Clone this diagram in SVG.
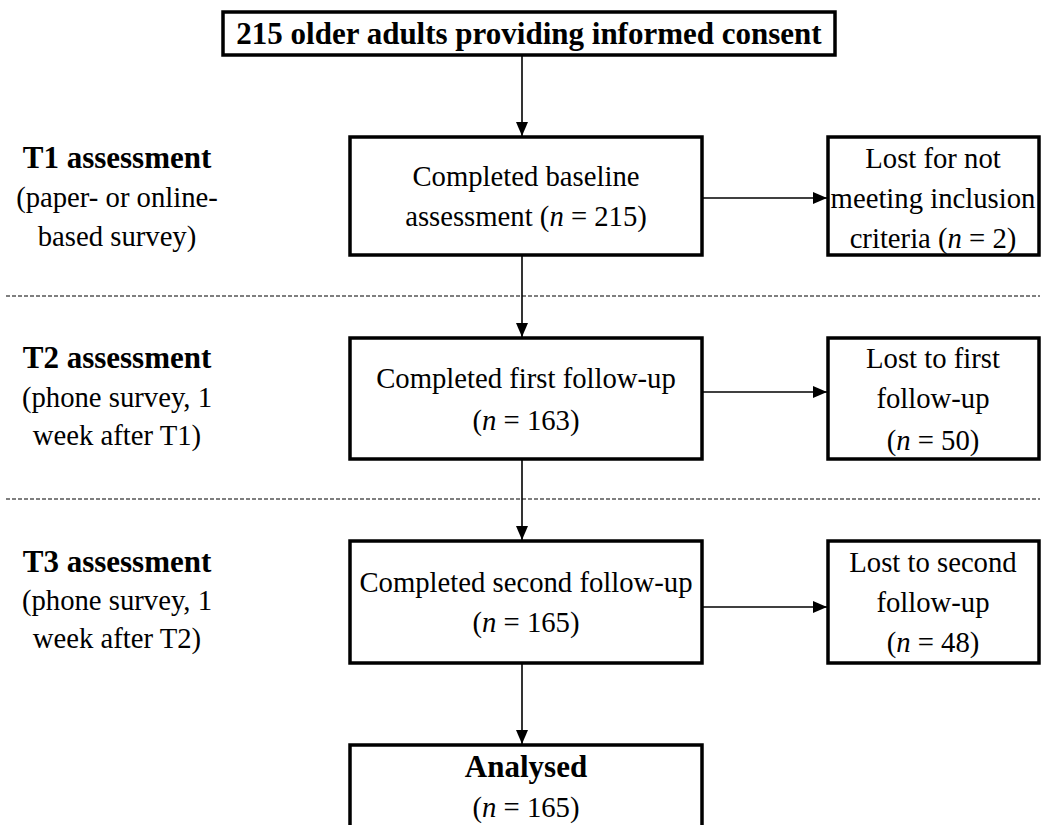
<svg xmlns="http://www.w3.org/2000/svg" width="1042" height="825" viewBox="0 0 1042 825">
<defs>
<marker id="ah" viewBox="0 0 14 12" refX="14" refY="6" markerWidth="14" markerHeight="12" markerUnits="userSpaceOnUse" orient="auto">
<path d="M0,0 L14,6 L0,12 z" fill="#000"/>
</marker>
<style>
.box{fill:#fff;stroke:#000;stroke-width:3.5}
text{font-family:'Liberation Serif',Tinos,'Times New Roman',Times,'DejaVu Serif',serif;font-size:28.7px;fill:#000;text-anchor:middle}
.b{font-weight:bold;font-size:31px}
.i{font-style:italic}
.c{stroke:#000;stroke-width:1.6;fill:none;marker-end:url(#ah)}
.d{stroke:#000;stroke-width:1.2;stroke-dasharray:4 2;fill:none}
</style>
</defs>
<rect width="1042" height="825" fill="#fff"/>
<g id="separators">
<line class="d" x1="6" y1="296" x2="1040" y2="296"/>
<line class="d" x1="6" y1="499" x2="1040" y2="499"/>
</g>
<g id="connectors">
<line class="c" x1="522" y1="56" x2="522" y2="136"/>
<line class="c" x1="522" y1="255" x2="522" y2="337"/>
<line class="c" x1="522" y1="459" x2="522" y2="540"/>
<line class="c" x1="522" y1="663" x2="522" y2="744"/>
<line class="c" x1="702" y1="198" x2="827" y2="198"/>
<line class="c" x1="702" y1="392" x2="827" y2="392"/>
<line class="c" x1="702" y1="607" x2="827" y2="607"/>
</g>
<g id="consent" font-family="Liberation Serif, serif">
<rect class="box" x="223" y="12" width="612" height="43"/>
<text class="b" x="529" y="44">215 older adults providing informed consent</text>
</g>
<g id="label-t1">
<text class="b" x="117" y="168">T1 assessment</text>
<text x="117" y="207">(paper- or online-</text>
<text x="117" y="246">based survey)</text>
</g>
<g id="label-t2">
<text class="b" x="117" y="368">T2 assessment</text>
<text x="117" y="407">(phone survey, 1</text>
<text x="117" y="445">week after T1)</text>
</g>
<g id="label-t3">
<text class="b" x="117" y="572">T3 assessment</text>
<text x="117" y="610">(phone survey, 1</text>
<text x="117" y="648">week after T2)</text>
</g>
<g id="baseline">
<rect class="box" x="350" y="137" width="352" height="118"/>
<text x="526" y="186">Completed baseline</text>
<text x="526" y="226">assessment (<tspan class="i">n</tspan> = 215)</text>
</g>
<g id="lost1">
<rect class="box" x="828" y="137" width="211" height="118"/>
<text x="933" y="168">Lost for not</text>
<text x="933" y="208">meeting inclusion</text>
<text x="933" y="248">criteria (<tspan class="i">n</tspan> = 2)</text>
</g>
<g id="followup1">
<rect class="box" x="350" y="338" width="352" height="121"/>
<text x="526" y="388">Completed first follow-up</text>
<text x="526" y="430">(<tspan class="i">n</tspan> = 163)</text>
</g>
<g id="lost2">
<rect class="box" x="828" y="338" width="211" height="121"/>
<text x="933" y="368">Lost to first</text>
<text x="933" y="408">follow-up</text>
<text x="933" y="450">(<tspan class="i">n</tspan> = 50)</text>
</g>
<g id="followup2">
<rect class="box" x="350" y="541" width="352" height="122"/>
<text x="526" y="592">Completed second follow-up</text>
<text x="526" y="632">(<tspan class="i">n</tspan> = 165)</text>
</g>
<g id="lost3">
<rect class="box" x="828" y="541" width="211" height="122"/>
<text x="933" y="572">Lost to second</text>
<text x="933" y="612">follow-up</text>
<text x="933" y="652">(<tspan class="i">n</tspan> = 48)</text>
</g>
<g id="analysed">
<rect class="box" x="350" y="745" width="352" height="100"/>
<text class="b" x="526" y="777">Analysed</text>
<text x="526" y="817">(<tspan class="i">n</tspan> = 165)</text>
</g>
</svg>
